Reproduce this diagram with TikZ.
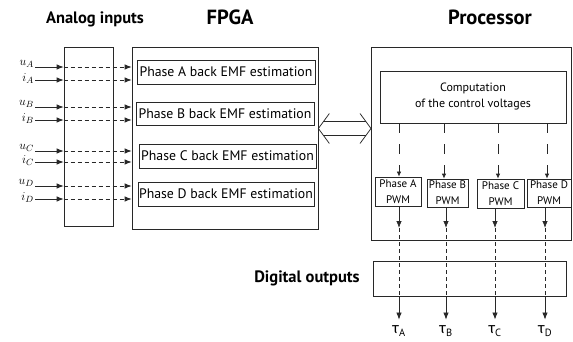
\documentclass[tikz,border=0pt]{standalone}
\usepackage{fontspec}
\setmainfont{PT Sans}
\newfontfamily\taufont{Fira Sans}
\usetikzlibrary{arrows.meta,positioning,calc}
\definecolor{lineclr}{RGB}{40,40,40}
\tikzset{
  boxln/.style={draw=lineclr, line width=0.75pt, inner sep=0pt},
  ttl/.style={font=\bfseries\fontsize{16.5}{18}\selectfont},
  bigttl/.style={font=\bfseries\fontsize{20.5}{22}\selectfont},
  sigln/.style={-{Latex[length=7pt,width=5.5pt]}, line width=0.75pt, lineclr},
  sigdashed/.style={sigln, dash pattern=on 4pt off 3pt},
  ctrlln/.style={-{Latex[length=5pt,width=4.5pt]}, line width=0.75pt, lineclr,
    dash pattern=on 10pt off 11pt},
  outdashed/.style={line width=0.75pt, lineclr, dash pattern=on 4pt off 3pt},
  lnkln/.style={line width=0.75pt, lineclr},
  varlbl/.style={anchor=east, inner sep=1pt, font=\fontsize{12.5}{12}\selectfont},
  emf/.style={boxln, minimum height=24pt, font=\fontsize{13.8}{15}\selectfont},
  pwm/.style={boxln, minimum height=29pt, align=center, font=\fontsize{11}{16}\selectfont},
  taulbl/.style={inner sep=0pt, font=\fontsize{15}{16}\selectfont},
}

\begin{document}
\begin{tikzpicture}[x=1pt, y=-1pt]
    \useasboundingbox (0,0) rectangle (573,342);
    % ----- titles -----
    \node[ttl] (tin) at (95,19) {Analog inputs};
    \node[bigttl] (tfpga) at (230,17) {FPGA};
    \node[bigttl] (tproc) at (490,17) {Processor};
    \node[ttl] (tout) at (307,278) {Digital outputs};

    % ----- acquisition and FPGA -----
    \node[boxln, minimum width=49pt, minimum height=179pt] (adc) at (88.5,136.5) {};
    \node[boxln, minimum width=186pt, minimum height=182pt] (fpga) at (225,138) {};
    \node[emf, minimum width=178pt] (emfA) at (226,72) {Phase A back EMF estimation};
    \node[emf, minimum width=178pt, minimum height=23pt] (emfB) at (225,113.5) {Phase B back EMF estimation};
    \node[emf, minimum width=177pt] (emfC) at (227.5,156) {Phase C back EMF estimation};
    \node[emf, minimum width=176pt] (emfD) at (226,194) {Phase D back EMF estimation};

    % measured voltages and currents
    \coordinate (uA) at (35,67);  \coordinate (iA) at (35,80);
    \coordinate (uB) at (35,107); \coordinate (iB) at (35,120);
    \coordinate (uC) at (35,151); \coordinate (iC) at (35,162);
    \coordinate (uD) at (35,186); \coordinate (iD) at (35,199);
    \foreach \s in {uA,iA,uB,iB,uC,iC,uD,iD}{
      \draw[sigln] (\s) -- (adc.west |- \s);
      \draw[sigdashed] (adc.west |- \s) -- (fpga.west |- \s);
    }
    \node[varlbl] (luA) at ([yshift=3pt]uA) {$u_A$};
    \node[varlbl] (liA) at ([yshift=1pt]iA) {$i_A$};
    \node[varlbl] (luB) at ([yshift=3pt]uB) {$u_B$};
    \node[varlbl] (liB) at ([yshift=1pt]iB) {$i_B$};
    \node[varlbl] (luC) at ([yshift=3pt]uC) {$u_C$};
    \node[varlbl] (liC) at ([yshift=1pt]iC) {$i_C$};
    \node[varlbl] (luD) at ([yshift=3pt]uD) {$u_D$};
    \node[varlbl] (liD) at ([yshift=1pt]iD) {$i_D$};

    % ----- link FPGA <-> processor -----
    \coordinate (lnkY) at (0,128.5);
    \coordinate (lnkL) at (fpga.east |- lnkY);
    \coordinate (lnkR) at (371,128.5);
    \draw[lnkln] ($(lnkL)+(11,-15)$) -- (lnkL) -- ($(lnkL)+(11,15)$);
    \draw[lnkln] ($(lnkR)+(-11,-15)$) -- (lnkR) -- ($(lnkR)+(-11,15)$);
    \draw[lnkln] ($(lnkL)+(5.1,-7)$) -- ($(lnkR)+(-5.1,-7)$);
    \draw[lnkln] ($(lnkL)+(5.1,7)$) -- ($(lnkR)+(-5.1,7)$);

    % ----- processor -----
    \node[boxln, minimum width=200pt, minimum height=193pt] (proc) at (471,143.5) {};
    \node[boxln, minimum width=186pt, minimum height=52pt, align=center,
          font=\fontsize{12}{16}\selectfont] (comp) at (473,97) {Computation\\of the control voltages};
    \node[pwm, minimum width=46pt] (pwmA) at (398,191.5) {Phase A\\PWM};
    \node[pwm, minimum width=41pt, minimum height=28pt] (pwmB) at (447.5,193) {Phase B\\PWM};
    \node[pwm, minimum width=47pt] (pwmC) at (500.5,193.5) {Phase C\\PWM};
    \node[pwm, minimum width=44pt, minimum height=28pt] (pwmD) at (549,193) {Phase D\\PWM};
    \draw[ctrlln] ([xshift=1pt]pwmA.north |- comp.south) -- ([xshift=1pt]pwmA.north);
    \draw[ctrlln] ([xshift=-3.5pt]pwmB.north |- comp.south) -- ([xshift=-3.5pt]pwmB.north);
    \draw[ctrlln] ([xshift=-2.5pt]pwmC.north |- comp.south) -- ([xshift=-2.5pt]pwmC.north);
    \draw[ctrlln] ([xshift=-2pt]pwmD.north |- comp.south) -- ([xshift=-2pt]pwmD.north);

    % ----- digital outputs -----
    \node[boxln, minimum width=193pt, minimum height=35pt] (dout) at (469.5,278.5) {};
    \node[taulbl] (tauA) at (399,331) {{\taufont τ}\textsubscript{A}};
    \node[taulbl] (tauB) at (446,331) {{\taufont τ}\textsubscript{B}};
    \node[taulbl] (tauC) at (495,331) {{\taufont τ}\textsubscript{C}};
    \node[taulbl] (tauD) at (545,331) {{\taufont τ}\textsubscript{D}};
    \foreach \p/\t in {pwmA/tauA,pwmB/tauB,pwmC/tauC,pwmD/tauD}{
      \coordinate (\p o) at (\t.north |- 0,228);
      \draw[sigln] (\t.north |- \p.south) -- (\p o);
      \draw[outdashed] (\p o) -- (\t.north |- dout.south);
      \draw[sigln] (\t.north |- dout.south) -- ([yshift=6pt]\t.north);
    }
\end{tikzpicture}
\end{document}
